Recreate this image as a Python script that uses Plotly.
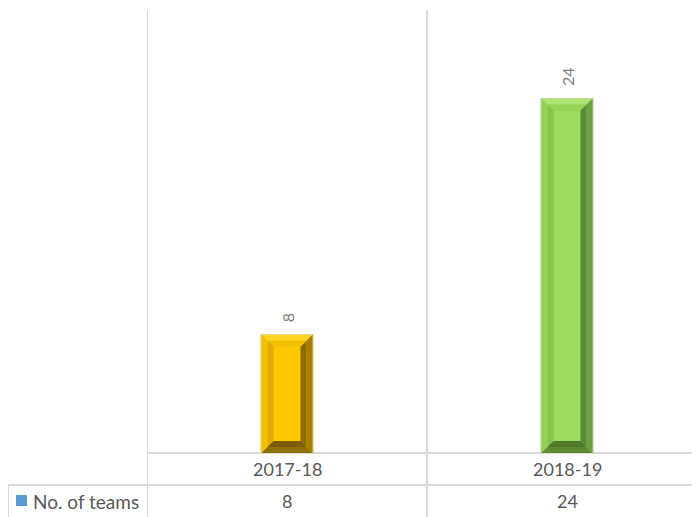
import plotly.graph_objects as go

categories = ["2017-18", "2018-19"]
values = [8, 24]
series_name = "No. of teams"

OFF = 8  # page body margin offset
W, H = 700, 517
ML, MT = 147 - OFF, 10 - OFF
plot_w = 700 - 147
plot_h = 453 - 10
MR = W - ML - plot_w
MB = H - MT - plot_h
x_range = [-0.5, -0.5 + plot_w / 280.0]
y_range = [0, 30]
px_per_x = plot_w / (x_range[1] - x_range[0])
px_per_y = plot_h / (y_range[1] - y_range[0])

def py_to_paper(py):
    return (453 - py) / plot_h

def px_to_paper(px):
    return (px - 147) / plot_w

face = ["#FFC700", "#9BDB5B"]
outline = ["#D9CFA6", "#C6D6B4"]
# (outer, inner) band colours for each bevel side
top_c = [("#FFD523", "#F2BE00"), ("#AEE374", "#97D354")]
left_c = [("#F5BE00", "#E2AC00"), ("#93D255", "#86C44A")]
right_c = [("#A58000", "#8C6B00"), ("#6FA03F", "#5C8A32")]
bot_c = [("#8F7000", "#7A5E00"), ("#5F8A33", "#52782B")]

bar_w = 0.186
fig = go.Figure()
fig.add_trace(go.Bar(
    x=list(range(len(categories))), y=values, width=bar_w,
    marker=dict(color=face, line=dict(color=outline, width=1.2)),
    name=series_name, showlegend=False, hoverinfo="skip",
))

shapes = []
bev = 12
dx = bev / px_per_x
dy = bev / px_per_y

def quad(a, b, c, d, col):
    pts = [a, b, c, d]
    path = "M " + " L ".join(f"{p[0]},{p[1]}" for p in pts) + " Z"
    return dict(type="path", path=path, xref="x", yref="y",
                fillcolor=col, line=dict(width=0), layer="above")

for i, v in enumerate(values):
    x0, x1 = i - bar_w / 2 + 0.002, i + bar_w / 2 - 0.002
    y0, y1 = 0, v
    for band, frac0, frac1 in ((0, 0.0, 0.5), (1, 0.5, 1.0)):
        ax0, ax1 = x0 + dx * frac0, x1 - dx * frac0
        ay0, ay1 = y0 + dy * frac0, y1 - dy * frac0
        bx0, bx1 = x0 + dx * frac1, x1 - dx * frac1
        by0, by1 = y0 + dy * frac1, y1 - dy * frac1
        shapes.append(quad((ax0, ay1), (ax1, ay1), (bx1, by1), (bx0, by1), top_c[i][band]))
        shapes.append(quad((ax0, ay0), (ax0, ay1), (bx0, by1), (bx0, by0), left_c[i][band]))
        shapes.append(quad((ax1, ay0), (ax1, ay1), (bx1, by1), (bx1, by0), right_c[i][band]))
        shapes.append(quad((ax0, ay0), (ax1, ay0), (bx1, by0), (bx0, by0), bot_c[i][band]))

grid = "#D9D9D9"
for k in range(len(categories) + 1):
    shapes.append(dict(type="line", xref="x", yref="paper", x0=k - 0.5, x1=k - 0.5,
                       y0=py_to_paper(525), y1=1, line=dict(color=grid, width=2), layer="below"))
shapes.append(dict(type="line", xref="paper", yref="paper", x0=0, x1=1.05,
                   y0=0, y1=0, line=dict(color=grid, width=2), layer="below"))
shapes.append(dict(type="line", xref="paper", yref="paper", x0=px_to_paper(8), x1=1.05,
                   y0=py_to_paper(485), y1=py_to_paper(485), line=dict(color=grid, width=2)))
shapes.append(dict(type="line", xref="paper", yref="paper", x0=px_to_paper(8), x1=px_to_paper(8),
                   y0=py_to_paper(485), y1=py_to_paper(525), line=dict(color=grid, width=2)))
shapes.append(dict(type="rect", xref="paper", yref="paper", x0=px_to_paper(16), x1=px_to_paper(27),
                   y0=py_to_paper(506), y1=py_to_paper(495), fillcolor="#5B9BD5", line=dict(width=0)))

font = dict(family="Lato", size=18, color="#595959")
annotations = []
for i, c in enumerate(categories):
    annotations.append(dict(x=i, y=py_to_paper(469), xref="x", yref="paper", text=c,
                            showarrow=False, font=font, xanchor="center", yanchor="middle"))
    annotations.append(dict(x=i, y=py_to_paper(501), xref="x", yref="paper", text=str(values[i]),
                            showarrow=False, font=font, xanchor="center", yanchor="middle"))
    annotations.append(dict(x=i, y=values[i], xref="x", yref="y", text=str(values[i]),
                            showarrow=False, textangle=-90, yshift=10,
                            font=dict(family="Lato", size=16, color="#7F7F7F"),
                            xanchor="center", yanchor="bottom"))
annotations.append(dict(x=px_to_paper(31), y=py_to_paper(501), xref="paper", yref="paper",
                        text=series_name, showarrow=False,
                        font=dict(family="Lato", size=19, color="#595959"),
                        xanchor="left", yanchor="middle"))

fig.update_layout(
    width=W, height=H, margin=dict(l=ML, r=MR, t=MT, b=MB, pad=0),
    paper_bgcolor="white", plot_bgcolor="white",
    xaxis=dict(range=x_range, showgrid=False, zeroline=False, showticklabels=False,
               ticks="", showline=False),
    yaxis=dict(range=y_range, showgrid=False, zeroline=False, showticklabels=False,
               ticks="", showline=False),
    shapes=shapes, annotations=annotations, showlegend=False,
)
fig.write_html("out.html")
